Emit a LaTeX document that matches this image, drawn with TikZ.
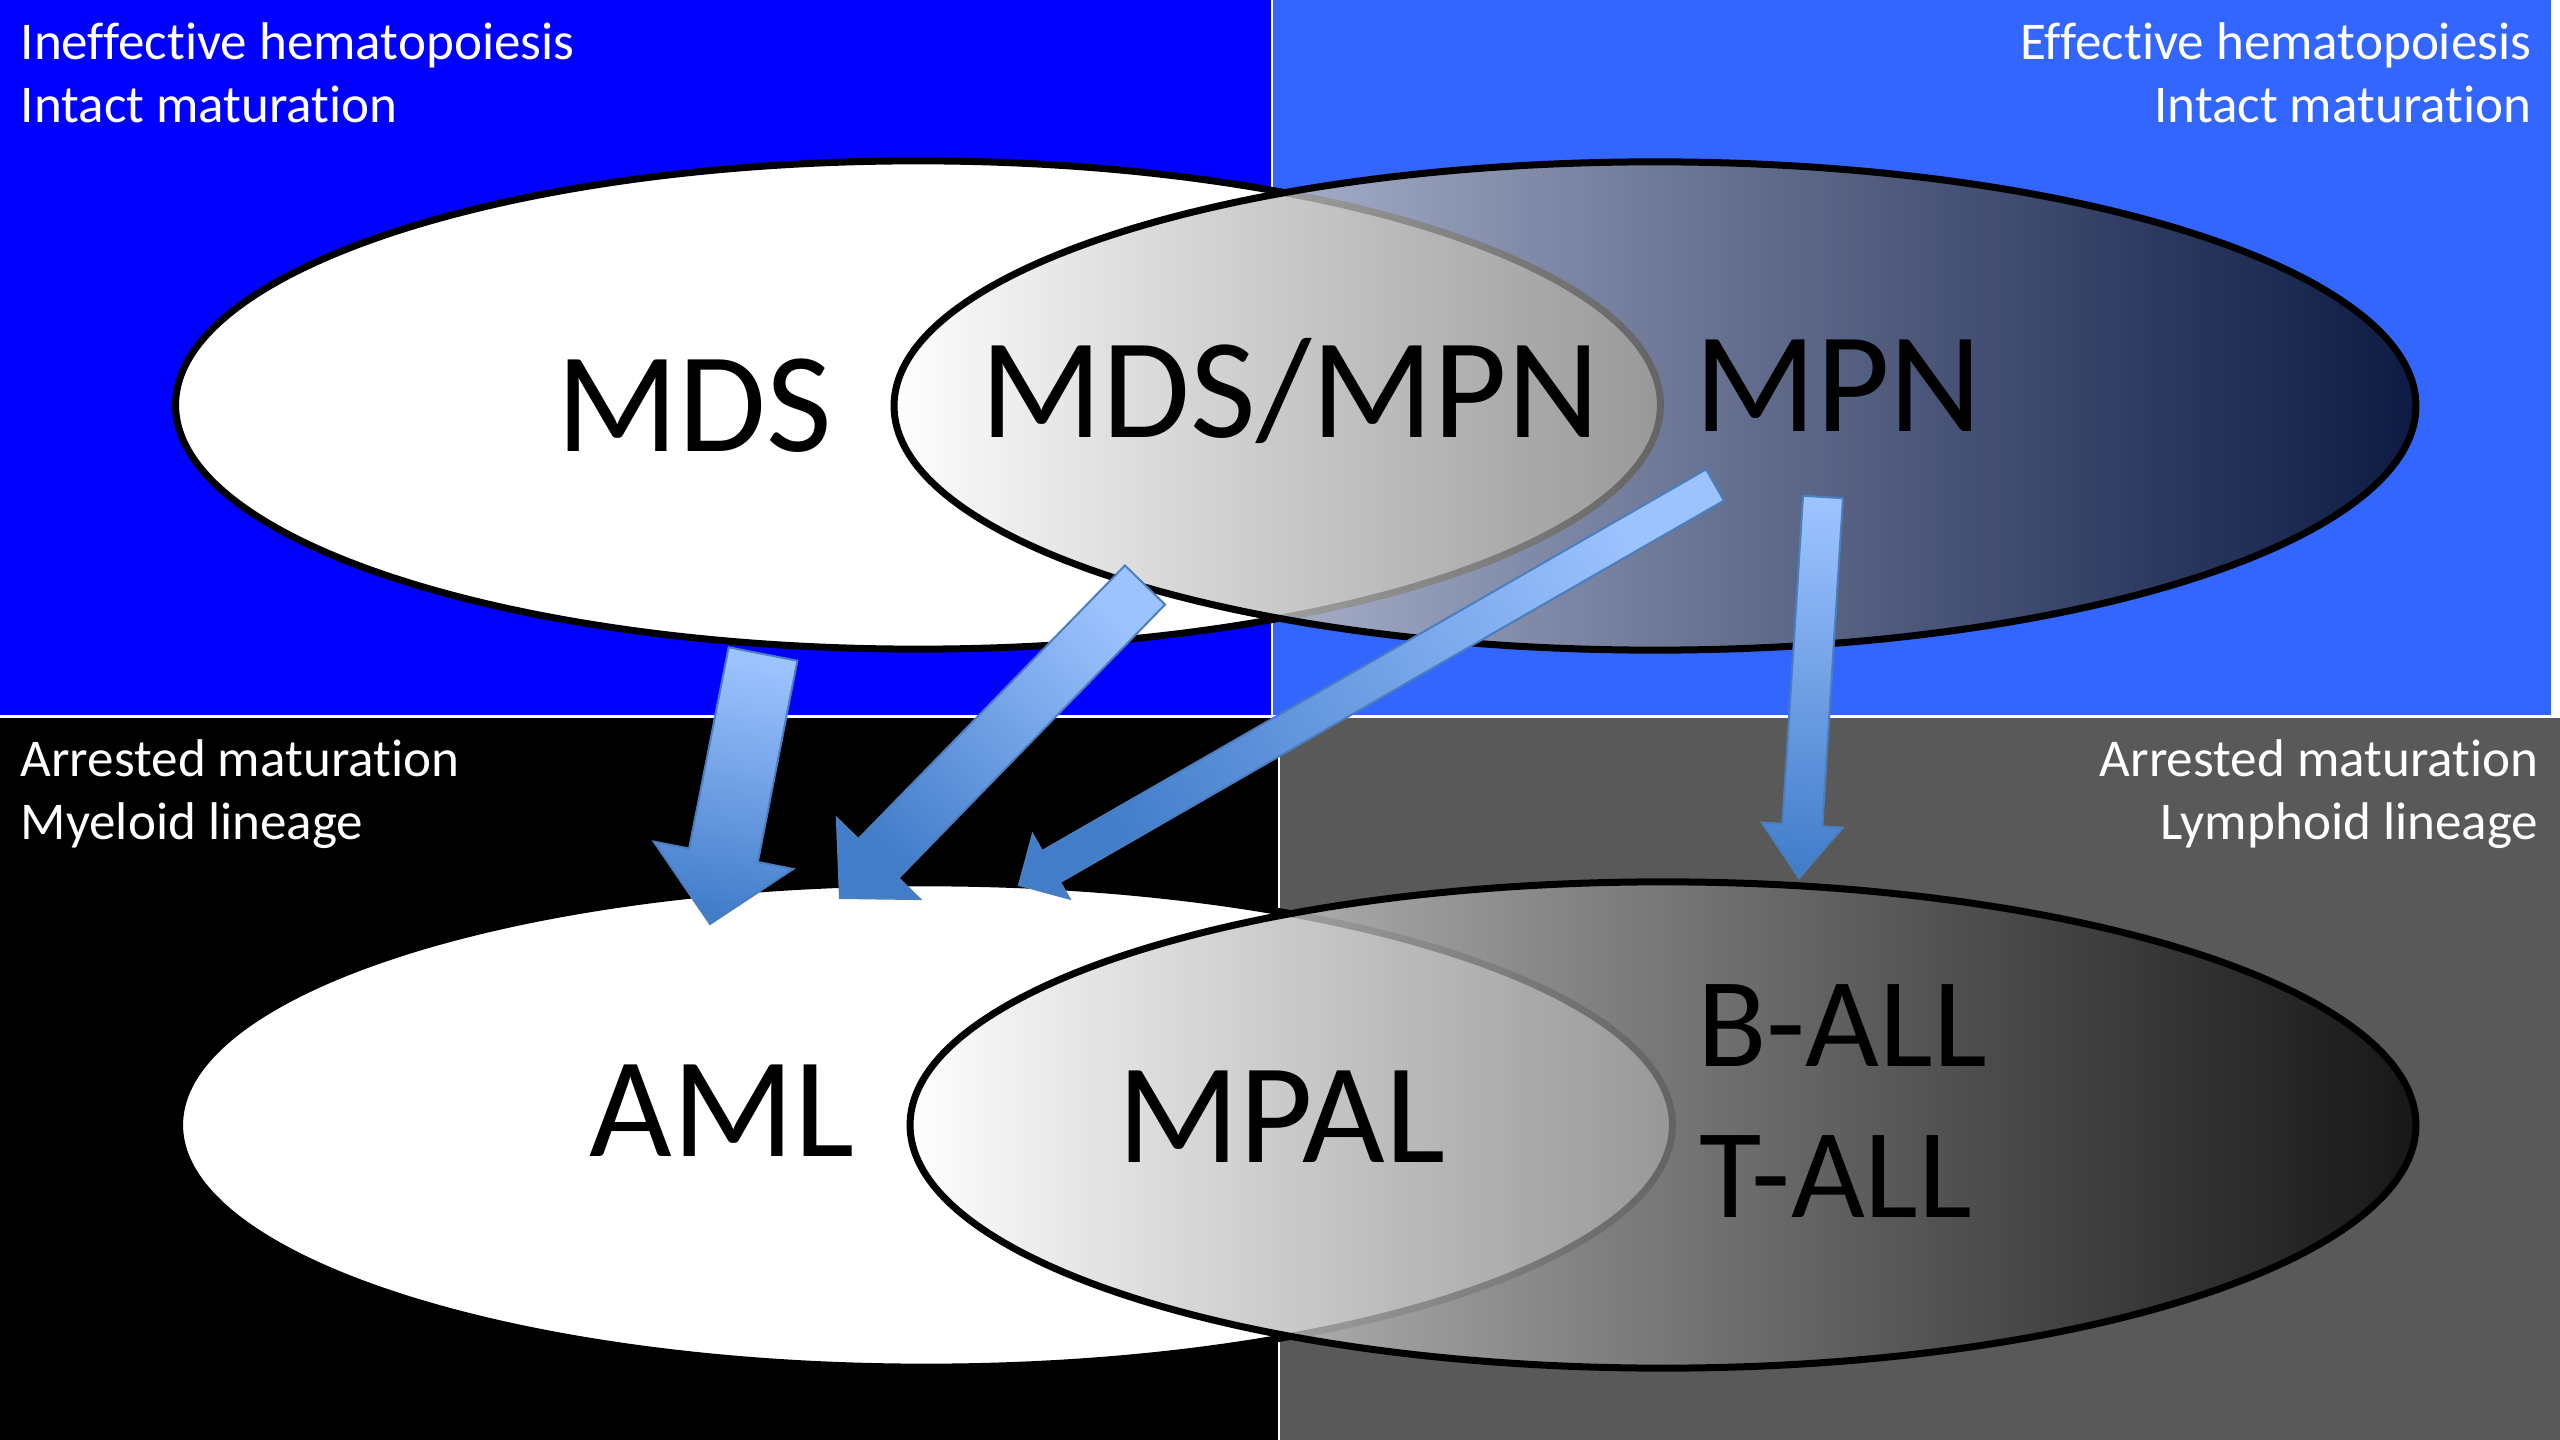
\documentclass[tikz,border=0pt]{standalone}
\usepackage{fontspec}
\setmainfont{Carlito}[Ligatures=CommonOff]
\usetikzlibrary{calc,shapes.geometric,fadings}
\definecolor{tlblue}{RGB}{0,0,255}
\definecolor{trblue}{RGB}{51,102,255}
\definecolor{brgray}{RGB}{89,89,89}
\definecolor{arrtop}{RGB}{157,195,255}
\definecolor{arrbot}{RGB}{66,125,202}
\definecolor{arredge}{RGB}{74,126,190}
\tikzfading[name=ovalfade, left color=transparent!14, right color=transparent!27]
\tikzset{
  ovalwhite/.style={ellipse, draw=black, line width=0.07cm, fill=white, inner sep=0pt},
  ovalshade/.style={ellipse, inner sep=0pt, left color=white, right color=black, path fading=ovalfade},
  ovalline/.style={ellipse, draw=black, line width=0.07cm, inner sep=0pt},
  barrow/.style={draw=arredge, line width=0.02cm, line join=miter, top color=arrtop, bottom color=arrbot},
  big/.style={font=\fontsize{40.6}{48}\selectfont, text=black, inner sep=0pt},
  bigs/.style={font=\fontsize{36.3}{43}\selectfont, text=black, inner sep=0pt},
  corner/.style={font=\fontsize{15.1}{18}\selectfont, text=white, inner sep=0pt}
}
\newcommand\blockarr[7]{%
  \coordinate (#7b) at ($(#2)!#5!(#1)$);
  \path[barrow, shading angle=#6] ($(#1)!#3!90:(#2)$) -- ($(#7b)!#3!90:(#2)$) -- ($(#7b)!#4!90:(#2)$) -- (#2) -- ($(#7b)!#4!-90:(#2)$) -- ($(#7b)!#3!-90:(#2)$) -- ($(#1)!#3!-90:(#2)$) -- cycle;
}
\begin{document}
\begin{tikzpicture}[x=0.01cm, y=-0.01cm]
\useasboundingbox (0,0) rectangle (2560,1440);
\fill[white] (0,0) rectangle (2560,1440);
% quadrants
\fill[tlblue] (0,0) rectangle (1271,715);
\fill[trblue] (1273,0) rectangle (2551,715);
\fill[black] (0,718) rectangle (1278,1440);
\fill[brgray] (1280,718) rectangle (2560,1440);
% corner labels
\node[corner, anchor=base west] (tl1) at (20,60) {Ineffective hematopoiesis};
\node[corner, anchor=base west] (tl2) at (20,123) {Intact maturation};
\node[corner, anchor=base east] (tr1) at (2532,60) {Effective hematopoiesis};
\node[corner, anchor=base east] (tr2) at (2532,123) {Intact maturation};
\node[corner, anchor=base west] (bl1) at (20,777) {Arrested maturation};
\node[corner, anchor=base west] (bl2) at (20,840) {Myeloid lineage};
\node[corner, anchor=base east] (br1) at (2539,777) {Arrested maturation};
\node[corner, anchor=base east] (br2) at (2539,840) {Lymphoid lineage};
% ellipses
\node[ovalwhite, minimum width=14.84cm, minimum height=4.88cm] (mds) at (918,405) {};
\node[ovalshade, minimum width=15.21cm, minimum height=4.88cm] (mpnfill) at (1655,406) {};
\node[ovalline, minimum width=15.21cm, minimum height=4.88cm] (mpn) at (1655,406) {};
\node[ovalwhite, minimum width=14.92cm, minimum height=4.84cm] (aml) at (926,1125) {};
\node[ovalshade, minimum width=15.05cm, minimum height=4.86cm] (mpalfill) at (1663,1125) {};
\node[ovalline, minimum width=15.05cm, minimum height=4.86cm] (mpal) at (1663,1125) {};
% labels
\node[big, anchor=base] (tmds) at (694,452) {MDS};
\node[big, anchor=base] (tmdsmpn) at (1290,438) {MDS/MPN};
\node[big, anchor=base] (tmpn) at (1838,432) {MPN};
\node[big, anchor=base] (taml) at (722,1156) {AML};
\node[big, anchor=base] (tmpal) at (1281,1162) {MPAL};
\node[bigs, anchor=base] (tball) at (1842,1066) {B-ALL};
\node[bigs, anchor=base] (ttall) at (1836,1217) {T-ALL};
% arrow end points
\coordinate (a1s) at (763,654);
\coordinate (a1e) at (710,924);
\coordinate (a2s) at (1145,585);
\coordinate (a2e) at (840,898);
\coordinate (a3s) at (1715,485);
\coordinate (a3e) at (1019,885);
\coordinate (a4s) at (1823,497);
\coordinate (a4e) at (1799,878);
\blockarr{a1s}{a1e}{0.35cm}{0.71cm}{0.70cm}{-11.2}{a1}
\blockarr{a2s}{a2e}{0.28cm}{0.58cm}{0.55cm}{-44.3}{a2}
\blockarr{a3s}{a3e}{0.18cm}{0.37cm}{0.37cm}{-60.1}{a3}
\blockarr{a4s}{a4e}{0.20cm}{0.405cm}{0.53cm}{-3.6}{a4}
\end{tikzpicture}
\end{document}
